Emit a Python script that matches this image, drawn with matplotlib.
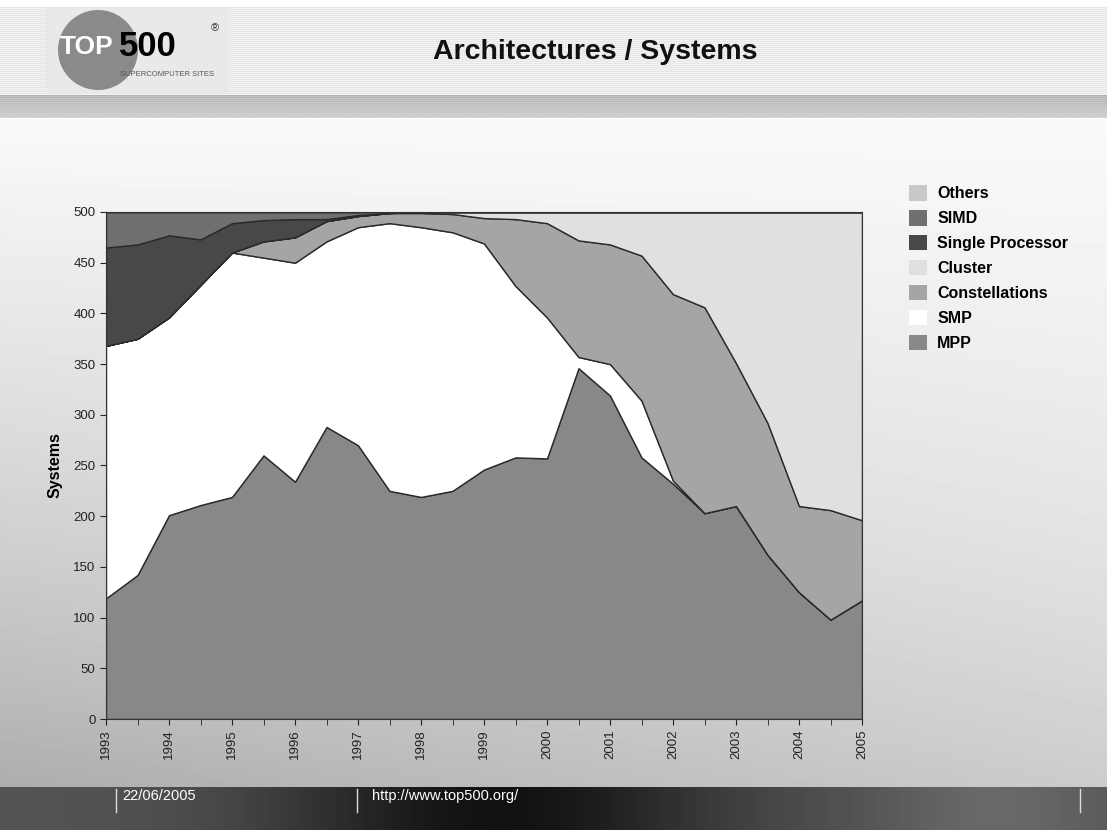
import numpy as np
from matplotlib import pyplot as plt
from matplotlib.patches import Patch, Circle, Rectangle

plt.rcParams['font.family'] = ['Liberation Sans', 'DejaVu Sans']

# TOP500 architecture share, lists from June 1993 to June 2005 (two per year)
years = [1993 + 0.5 * i for i in range(25)]
mpp = [119, 142, 201, 211, 219, 260, 234, 288, 270, 225, 219, 225, 246,
       258, 257, 346, 319, 258, 232, 203, 210, 162, 125, 98, 117]
smp = [249, 233, 195, 217, 241, 195, 216, 183, 215, 264, 266, 255, 223,
       169, 139, 11, 31, 56, 3, 0, 0, 0, 0, 0, 0]
constellations = [0, 0, 0, 0, 0, 16, 25, 20, 11, 10, 14, 18, 25,
                  66, 93, 115, 118, 143, 184, 203, 141, 130, 85, 108, 79]
cluster = [0, 0, 0, 0, 0, 0, 0, 0, 0, 0, 1, 2, 6,
           7, 11, 28, 32, 43, 81, 94, 149, 208, 290, 294, 304]
single_proc = [97, 93, 81, 45, 29, 21, 18, 2, 1, 0, 0, 0, 0,
               0, 0, 0, 0, 0, 0, 0, 0, 0, 0, 0, 0]
simd = [35, 32, 23, 27, 11, 8, 7, 7, 3, 1, 0, 0, 0,
        0, 0, 0, 0, 0, 0, 0, 0, 0, 0, 0, 0]
others = [0] * 25

names = ['MPP', 'SMP', 'Constellations', 'Cluster', 'Single Processor', 'SIMD', 'Others']
colors = ['#888888', '#ffffff', '#a5a5a5', '#e0e0e0', '#484848', '#707070', '#c8c8c8']

W, H = 1107, 830
fig = plt.figure(figsize=(W / 100, H / 100), dpi=100)

# slide background
bg = fig.add_axes([0, 0, 1, 1])
bg.set_xlim(0, W)
bg.set_ylim(H, 0)
bg.axis('off')
gx, gy = np.meshgrid(np.linspace(0, 1, 200), np.linspace(0, 1, 160))
shade = 0.98 - 0.24 * gy * (1 - 0.5 * gx) - 0.06 * gy ** 3
bg.imshow(shade, cmap='gray', vmin=0, vmax=1, extent=[0, W, 787, 118], aspect='auto')

# header stripes
rows = np.arange(88)
stripe = np.where(rows % 2 == 0, 0.90, 0.95)[:, None] * np.ones((1, 10))
bg.imshow(stripe, cmap='gray', vmin=0, vmax=1, extent=[0, W, 95, 7], aspect='auto')
rows2 = np.arange(22)
stripe2 = (np.where(rows2 % 2 == 0, 0.70, 0.76) + 0.004 * rows2)[:, None] * np.ones((1, 10))
bg.imshow(stripe2, cmap='gray', vmin=0, vmax=1, extent=[0, W, 118, 95], aspect='auto')

# logo
bg.add_patch(Rectangle((46, 8), 182, 86, facecolor='#e9e9e9', edgecolor='none'))
bg.add_patch(Circle((98, 50), 40, facecolor='#8a8a8a', edgecolor='none'))
bg.text(60, 47, 'TOP', fontsize=19, fontweight='bold', color='white', va='center')
bg.text(119, 47, '500', fontsize=25, fontweight='bold', color='black', va='center')
bg.text(211, 28, '®', fontsize=8, color='#333333', va='center')
bg.text(120, 74, 'SUPERCOMPUTER SITES', fontsize=5.5, color='#555555', va='center')

bg.text(595, 52, 'Architectures / Systems', fontsize=20.5, fontweight='bold',
        ha='center', va='center', color='#111111')

# footer
fx = np.linspace(0, 1, 300)
foot = 0.33 - 0.26 * np.exp(-((fx - 0.45) / 0.2) ** 2) + 0.08 * np.exp(-((fx - 0.9) / 0.1) ** 2)
bg.imshow(foot[None, :], cmap='gray', vmin=0, vmax=1, extent=[0, W, H, 787], aspect='auto')
for sx in [116, 357, 1080]:
    bg.plot([sx, sx], [789, 812], color='#dddddd', lw=1)
bg.text(122, 796, '22/06/2005', fontsize=10.5, color='white', va='center')
bg.text(372, 796, 'http://www.top500.org/', fontsize=10.5, color='white', va='center')

# chart
ax = fig.add_axes([106 / W, 1 - 719 / H, (862 - 106) / W, (719 - 212) / H])
ax.stackplot(years, mpp, smp, constellations, cluster, single_proc, simd, others,
             colors=colors, edgecolor='#2a2a2a', linewidth=1.0)
ax.set_xlim(1993, 2005)
ax.set_ylim(0, 500)
ax.set_yticks(range(0, 501, 50))
ax.set_xticks(range(1993, 2006))
ax.set_xticks(years, minor=True)
ax.tick_params(axis='x', labelrotation=90, labelsize=9.5, colors='#222222', length=4)
ax.tick_params(axis='x', which='minor', length=4, color='#222222')
ax.tick_params(axis='y', labelsize=9.5, colors='#222222', length=4)
for s in ax.spines.values():
    s.set_color('#333333')
ax.set_ylabel('Systems', fontsize=11.5, fontweight='bold', labelpad=8)

handles = [Patch(facecolor=c, edgecolor='none') for c in colors][::-1]
leg = fig.legend(handles, names[::-1], loc='upper left', bbox_to_anchor=(895 / W, 1 - 171 / H),
                 frameon=False, handlelength=1.1, handleheight=1.1, handletextpad=0.65,
                 labelspacing=0.55, prop={'size': 11.5, 'weight': 'bold'})

fig.savefig('out.png', dpi=100)
